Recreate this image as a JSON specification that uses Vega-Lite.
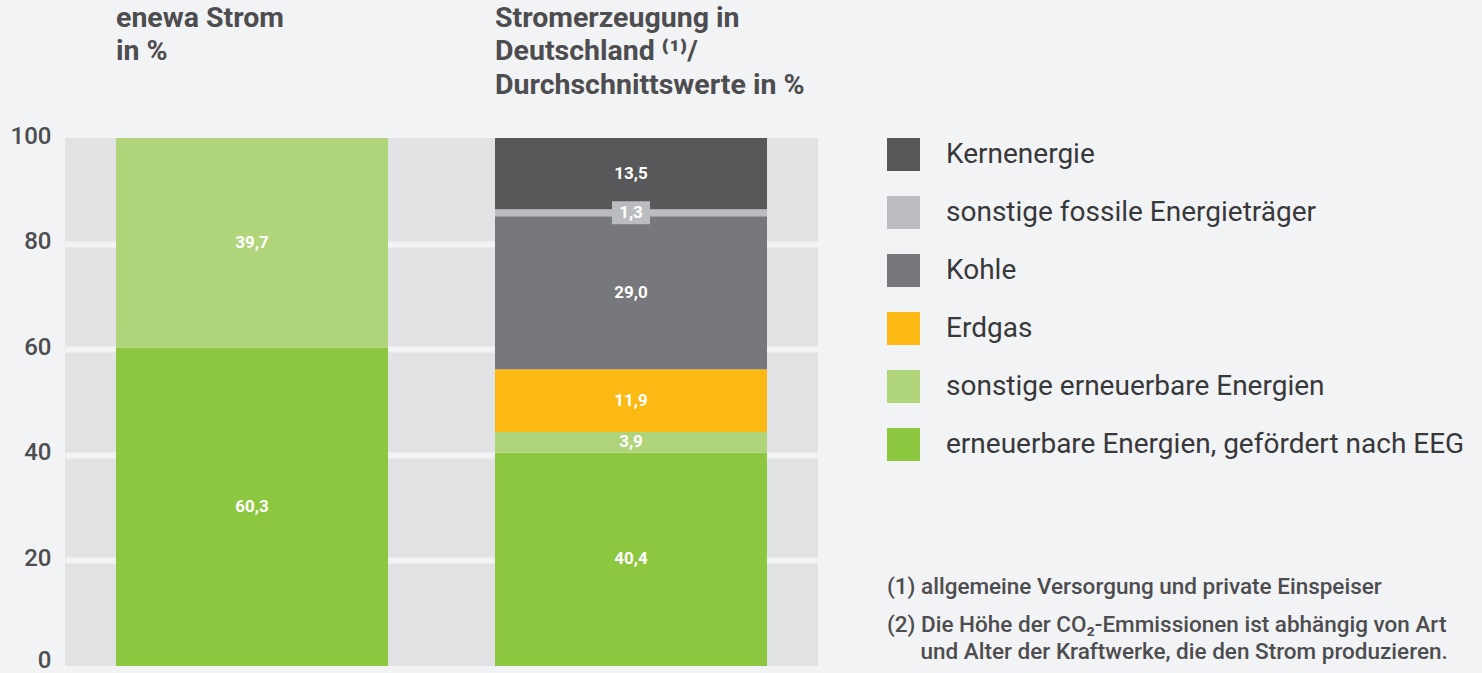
{
  "$schema": "https://vega.github.io/schema/vega-lite/v6.json",
  "autosize": {"type": "none"},
  "width": 753,
  "height": 528,
  "padding": {"left": 65, "top": 138, "right": 664, "bottom": 7},
  "background": "#f2f3f5",
  "data": {
    "values": [
      {"bar": "enewa Strom|in %", "source": "erneuerbare Energien, gefördert nach EEG", "value": 60.3},
      {"bar": "enewa Strom|in %", "source": "sonstige erneuerbare Energien", "value": 39.7},
      {"bar": "Stromerzeugung in|Deutschland ⁽¹⁾/|Durchschnittswerte in %", "source": "erneuerbare Energien, gefördert nach EEG", "value": 40.4},
      {"bar": "Stromerzeugung in|Deutschland ⁽¹⁾/|Durchschnittswerte in %", "source": "sonstige erneuerbare Energien", "value": 3.9},
      {"bar": "Stromerzeugung in|Deutschland ⁽¹⁾/|Durchschnittswerte in %", "source": "Erdgas", "value": 11.9},
      {"bar": "Stromerzeugung in|Deutschland ⁽¹⁾/|Durchschnittswerte in %", "source": "Kohle", "value": 29.0},
      {"bar": "Stromerzeugung in|Deutschland ⁽¹⁾/|Durchschnittswerte in %", "source": "sonstige fossile Energieträger", "value": 1.3},
      {"bar": "Stromerzeugung in|Deutschland ⁽¹⁾/|Durchschnittswerte in %", "source": "Kernenergie", "value": 13.5}
    ]
  },
  "transform": [
    {"calculate": "indexof(['Kernenergie','sonstige fossile Energieträger','Kohle','Erdgas','sonstige erneuerbare Energien','erneuerbare Energien, gefördert nach EEG'], datum.source)", "as": "rank"},
    {"stack": "value", "groupby": ["bar"], "sort": [{"field": "rank", "order": "descending"}], "as": ["y0", "y1"]},
    {"calculate": "(datum.y0 + datum.y1) / 2", "as": "ymid"},
    {"calculate": "replace(format(datum.value, '.1f'), '.', ',')", "as": "label"}
  ],
  "title": {
    "text": "(1) allgemeine Versorgung und private Einspeiser",
    "subtitle": ["(2) Die Höhe der CO₂-Emmissionen ist abhängig von Art", "\u200b\u00a0\u00a0\u00a0\u00a0\u00a0\u00a0und Alter der Kraftwerke, die den Strom produzieren."],
    "orient": "bottom",
    "anchor": "start",
    "frame": "group",
    "dx": 822,
    "offset": -96,
    "baseline": "top",
    "font": "Roboto",
    "fontSize": 22.5,
    "fontWeight": 500,
    "color": "#4d4d4f",
    "subtitleFont": "Roboto",
    "subtitleFontSize": 22.5,
    "subtitleFontWeight": 500,
    "subtitleColor": "#4d4d4f",
    "subtitleLineHeight": 27,
    "subtitlePadding": 15
  },
  "encoding": {
    "x": {
      "field": "bar",
      "type": "nominal",
      "sort": null,
      "title": null,
      "scale": {"paddingInner": 0.28232, "paddingOuter": 0.13456},
      "axis": {
        "orient": "top",
        "domain": false,
        "ticks": false,
        "tickSize": 0,
        "labelAngle": 0,
        "labelAlign": "left",
        "labelBaseline": "top",
        "labelOffset": -136,
        "labelPadding": 135,
        "labelExpr": "split(datum.label, '|')",
        "labelFont": "Roboto",
        "labelFontSize": 28.5,
        "labelFontWeight": "bold",
        "labelColor": "#4d4d4f",
        "labelLineHeight": 33.5,
        "labelLimit": 600,
        "labelOverlap": false
      }
    }
  },
  "layer": [
    {
      "mark": {"type": "bar"},
      "encoding": {
        "y": {
          "field": "y0",
          "type": "quantitative",
          "title": null,
          "scale": {"domain": [0, 100], "nice": false},
          "axis": {
            "values": [0, 20, 40, 60, 80, 100],
            "domain": false,
            "ticks": false,
            "labelPadding": 14,
            "labelOffset": {"condition": {"test": "datum.value === 0", "value": -6}, "value": -2},
            "labelFont": "Roboto",
            "labelFontSize": 24,
            "labelFontWeight": 500,
            "labelColor": "#4d4d4f",
            "labelFlush": false,
            "labelOverlap": false,
            "labelBaseline": "middle",
            "grid": true,
            "gridColor": "#f2f3f5",
            "gridWidth": 6,
            "gridOpacity": {"condition": {"test": "datum.value === 0 || datum.value === 100", "value": 0}, "value": 1}
          }
        },
        "y2": {"field": "y1"},
        "color": {
          "field": "source",
          "type": "nominal",
          "scale": {
            "domain": ["Kernenergie", "sonstige fossile Energieträger", "Kohle", "Erdgas", "sonstige erneuerbare Energien", "erneuerbare Energien, gefördert nach EEG"],
            "range": ["#58585a", "#bbbcbf", "#77787b", "#fdb913", "#b0d479", "#8dc63f"]
          },
          "legend": {
            "orient": "none",
            "legendX": 822,
            "legendY": 0,
            "title": null,
            "padding": 0,
            "symbolType": "square",
            "symbolSize": 1089,
            "symbolStrokeWidth": 0,
            "symbolOpacity": 1,
            "labelFont": "Roboto",
            "labelFontSize": 28,
            "labelColor": "#38383a",
            "labelOffset": 26,
            "labelLimit": 700,
            "rowPadding": 25
          }
        }
      }
    },
    {
      "transform": [{"filter": "datum.source === 'sonstige fossile Energieträger'"}],
      "mark": {"type": "point", "shape": "M-1,-0.605L1,-0.605L1,0.605L-1,0.605Z", "size": 1444, "filled": true, "opacity": 1, "color": "#bbbcbf", "strokeWidth": 0},
      "encoding": {
        "y": {"field": "ymid", "type": "quantitative", "title": null}
      }
    },
    {
      "mark": {"type": "text", "color": "#ffffff", "font": "Roboto", "fontSize": 17, "fontWeight": "bold", "baseline": "middle", "align": "center"},
      "encoding": {
        "y": {"field": "ymid", "type": "quantitative", "title": null},
        "text": {"field": "label"}
      }
    }
  ],
  "config": {
    "view": {"fill": "#e1e2e4", "stroke": null}
  }
}
